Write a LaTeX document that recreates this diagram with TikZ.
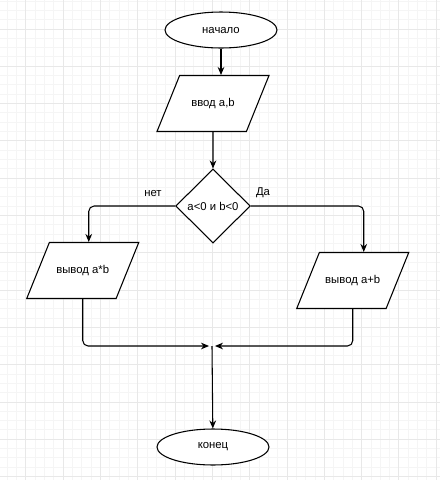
\documentclass[tikz,border=0pt]{standalone}
\usepackage{fontspec}
\setmainfont{Liberation Sans}
\usetikzlibrary{shapes.geometric,arrows.meta}
\definecolor{minorgrid}{HTML}{F5F5F5}
\definecolor{majorgrid}{HTML}{E8E8E8}
\tikzset{
  flow/.style={draw, line width=0.8pt, -{Stealth[length=6pt,width=5pt]}, rounded corners=4pt},
  terminal/.style={ellipse, draw, line width=0.8pt, fill=white, minimum width=84pt, minimum height=27pt, inner sep=0pt},
  io/.style={trapezium, trapezium left angle=68, trapezium right angle=112, trapezium stretches body=true,
    draw, line width=0.8pt, fill=white, minimum width=84pt, text height=6pt, text depth=2pt,
    inner ysep=17pt, inner xsep=0pt},
  decision/.style={diamond, draw, line width=0.8pt, fill=white, minimum width=56pt, minimum height=55.5pt, inner sep=0pt},
  every node/.append style={font=\fontsize{8.5pt}{10pt}\selectfont}
}
\begin{document}
\begin{tikzpicture}[x=0.75pt, y=-0.75pt]
    \useasboundingbox (0,0) rectangle (440,480);
    \fill[white] (0,0) rectangle (440,480);
    \foreach \k in {-2,...,44}{
      \draw[minorgrid, line width=0.75pt] ({26+9.325*\k},0) -- ({26+9.325*\k},480);
    }
    \foreach \k in {-3,...,48}{
      \draw[minorgrid, line width=0.75pt] (0,{29+9.325*\k}) -- (440,{29+9.325*\k});
    }
    \foreach \k in {0,...,11}{
      \draw[majorgrid, line width=0.75pt] ({26+37.3*\k},0) -- ({26+37.3*\k},480);
    }
    \foreach \k in {0,...,12}{
      \draw[majorgrid, line width=0.75pt] (0,{29+37.3*\k}) -- (440,{29+37.3*\k});
    }

    \node[terminal] (start) at (221,30) {начало};
    \node[io] (input) at (213,103.5) {ввод a,b};
    \node[decision] (cond) at (213,206) {a<0 и b<0};
    \node[io] (outmul) at (82.75,270.5) {вывод a*b};
    \node[io] (outsum) at (352.75,280.5) {вывод a+b};
    \coordinate (merge) at (212,346);
    \node[terminal] (stop) at (213,447) {конец};

    \node (no) at (153,194) {нет};
    \node (yes) at (263,193) {Да};

    \draw[flow] (start) -- (start |- input.north);
    \draw[flow] (input) -- (cond);
    \draw[flow] (cond.west) -| ([xshift=4.5pt]outmul.north);
    \draw[flow] (cond.east) -| ([xshift=8.25pt]outsum.north);
    \draw[flow] (outmul.south) |- ([xshift=-2.25pt]merge);
    \draw[flow] (outsum.south) |- ([xshift=2.25pt]merge);
    \draw[flow] (merge) -- (stop);
\end{tikzpicture}
\end{document}
